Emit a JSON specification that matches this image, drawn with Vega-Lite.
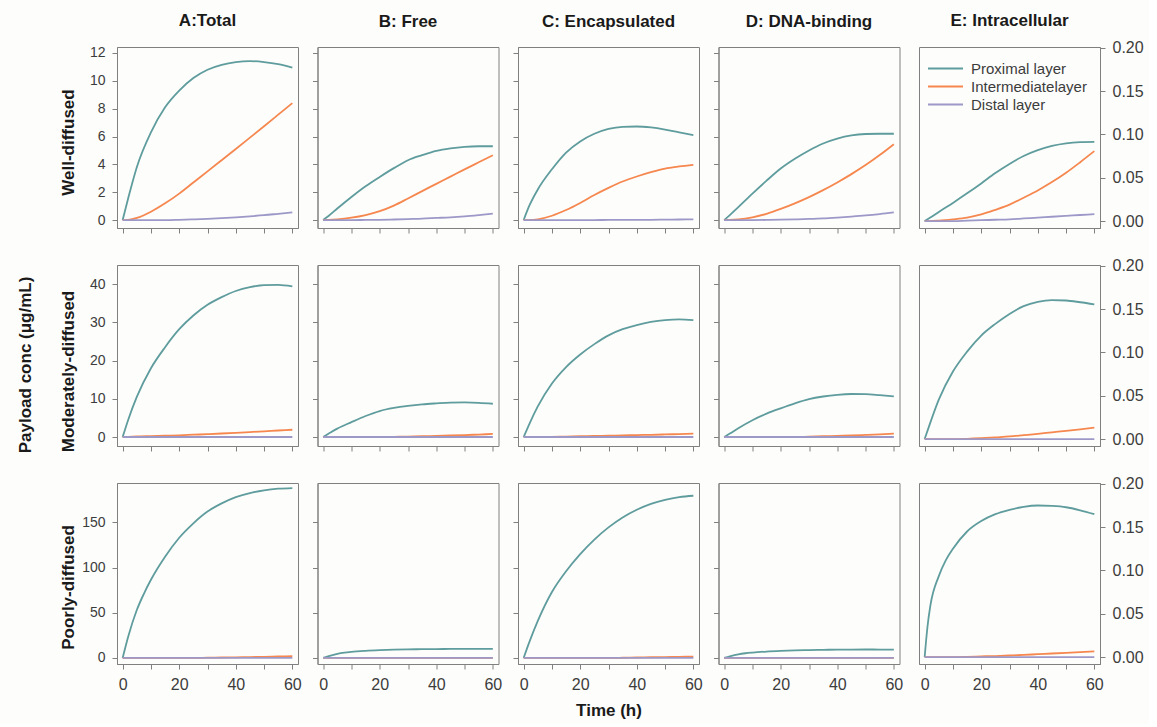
{
"$schema": "https://vega.github.io/schema/vega-lite/v6.json",
"background": "#fdfdfb",
"padding": {"left": 16, "top": 11, "right": 5, "bottom": 5},
"title": {"text": "Payload conc (μg/mL)", "orient": "left", "anchor": "middle", "offset": 24, "fontSize": 17, "fontWeight": "bold", "color": "#1a1a1a"},
"datasets": {"d": [
{"r":"W","c":"A","t":0,"p":0,"i":0,"d":0},{"r":"W","c":"A","t":2,"p":1.6,"i":0.02,"d":0},{"r":"W","c":"A","t":5,"p":3.8,"i":0.15,"d":0},{"r":"W","c":"A","t":10,"p":6.3,"i":0.6,"d":0},{"r":"W","c":"A","t":15,"p":8.1,"i":1.2,"d":0},{"r":"W","c":"A","t":20,"p":9.3,"i":1.9,"d":0.02},{"r":"W","c":"A","t":25,"p":10.2,"i":2.7,"d":0.05},{"r":"W","c":"A","t":30,"p":10.8,"i":3.5,"d":0.09},{"r":"W","c":"A","t":35,"p":11.15,"i":4.3,"d":0.14},{"r":"W","c":"A","t":40,"p":11.35,"i":5.1,"d":0.2},{"r":"W","c":"A","t":45,"p":11.42,"i":5.92,"d":0.27},{"r":"W","c":"A","t":50,"p":11.35,"i":6.74,"d":0.35},{"r":"W","c":"A","t":55,"p":11.2,"i":7.57,"d":0.45},{"r":"W","c":"A","t":60,"p":10.95,"i":8.4,"d":0.55},
{"r":"W","c":"B","t":0,"p":0,"i":0,"d":0},{"r":"W","c":"B","t":2,"p":0.31,"i":0.01,"d":0},{"r":"W","c":"B","t":5,"p":0.83,"i":0.05,"d":0},{"r":"W","c":"B","t":10,"p":1.66,"i":0.17,"d":0},{"r":"W","c":"B","t":15,"p":2.43,"i":0.36,"d":0.01},{"r":"W","c":"B","t":20,"p":3.1,"i":0.64,"d":0.02},{"r":"W","c":"B","t":25,"p":3.73,"i":1.04,"d":0.04},{"r":"W","c":"B","t":30,"p":4.3,"i":1.55,"d":0.07},{"r":"W","c":"B","t":35,"p":4.66,"i":2.08,"d":0.1},{"r":"W","c":"B","t":40,"p":4.97,"i":2.6,"d":0.15},{"r":"W","c":"B","t":45,"p":5.15,"i":3.12,"d":0.2},{"r":"W","c":"B","t":50,"p":5.26,"i":3.64,"d":0.27},{"r":"W","c":"B","t":55,"p":5.3,"i":4.15,"d":0.36},{"r":"W","c":"B","t":60,"p":5.3,"i":4.66,"d":0.46},
{"r":"W","c":"C","t":0,"p":0,"i":0,"d":0},{"r":"W","c":"C","t":2,"p":1.03,"i":0,"d":0},{"r":"W","c":"C","t":5,"p":2.2,"i":0.05,"d":0},{"r":"W","c":"C","t":10,"p":3.65,"i":0.31,"d":0},{"r":"W","c":"C","t":15,"p":4.85,"i":0.72,"d":0},{"r":"W","c":"C","t":20,"p":5.65,"i":1.23,"d":0},{"r":"W","c":"C","t":25,"p":6.2,"i":1.8,"d":0},{"r":"W","c":"C","t":30,"p":6.55,"i":2.31,"d":0.01},{"r":"W","c":"C","t":35,"p":6.7,"i":2.77,"d":0.01},{"r":"W","c":"C","t":40,"p":6.72,"i":3.13,"d":0.02},{"r":"W","c":"C","t":45,"p":6.65,"i":3.44,"d":0.02},{"r":"W","c":"C","t":50,"p":6.5,"i":3.7,"d":0.03},{"r":"W","c":"C","t":55,"p":6.3,"i":3.85,"d":0.04},{"r":"W","c":"C","t":60,"p":6.1,"i":3.97,"d":0.05},
{"r":"W","c":"D","t":0,"p":0,"i":0,"d":0},{"r":"W","c":"D","t":2,"p":0.36,"i":0.01,"d":0},{"r":"W","c":"D","t":5,"p":0.93,"i":0.05,"d":0},{"r":"W","c":"D","t":10,"p":1.9,"i":0.2,"d":0},{"r":"W","c":"D","t":15,"p":2.83,"i":0.45,"d":0.01},{"r":"W","c":"D","t":20,"p":3.7,"i":0.8,"d":0.03},{"r":"W","c":"D","t":25,"p":4.4,"i":1.2,"d":0.05},{"r":"W","c":"D","t":30,"p":5.0,"i":1.65,"d":0.08},{"r":"W","c":"D","t":35,"p":5.5,"i":2.15,"d":0.12},{"r":"W","c":"D","t":40,"p":5.85,"i":2.7,"d":0.18},{"r":"W","c":"D","t":45,"p":6.08,"i":3.3,"d":0.25},{"r":"W","c":"D","t":50,"p":6.18,"i":3.95,"d":0.33},{"r":"W","c":"D","t":55,"p":6.2,"i":4.67,"d":0.43},{"r":"W","c":"D","t":60,"p":6.2,"i":5.45,"d":0.55},
{"r":"W","c":"E","t":0,"p":0,"i":0,"d":0},{"r":"W","c":"E","t":2,"p":0.004,"i":0,"d":0},{"r":"W","c":"E","t":5,"p":0.0105,"i":0.0005,"d":0},{"r":"W","c":"E","t":10,"p":0.021,"i":0.002,"d":0},{"r":"W","c":"E","t":15,"p":0.032,"i":0.004,"d":0.0005},{"r":"W","c":"E","t":20,"p":0.0435,"i":0.0077,"d":0.001},{"r":"W","c":"E","t":25,"p":0.0555,"i":0.013,"d":0.0015},{"r":"W","c":"E","t":30,"p":0.066,"i":0.019,"d":0.002},{"r":"W","c":"E","t":35,"p":0.0752,"i":0.027,"d":0.003},{"r":"W","c":"E","t":40,"p":0.082,"i":0.0354,"d":0.004},{"r":"W","c":"E","t":45,"p":0.0868,"i":0.045,"d":0.005},{"r":"W","c":"E","t":50,"p":0.0898,"i":0.0558,"d":0.006},{"r":"W","c":"E","t":55,"p":0.0911,"i":0.068,"d":0.007},{"r":"W","c":"E","t":60,"p":0.0914,"i":0.0808,"d":0.008},
{"r":"M","c":"A","t":0,"p":0,"i":0,"d":0},{"r":"M","c":"A","t":2,"p":4.6,"i":0.05,"d":0},{"r":"M","c":"A","t":5,"p":10.5,"i":0.15,"d":0},{"r":"M","c":"A","t":10,"p":18.0,"i":0.25,"d":0},{"r":"M","c":"A","t":15,"p":23.5,"i":0.35,"d":0},{"r":"M","c":"A","t":20,"p":28.2,"i":0.45,"d":0},{"r":"M","c":"A","t":25,"p":31.8,"i":0.6,"d":0},{"r":"M","c":"A","t":30,"p":34.6,"i":0.75,"d":0},{"r":"M","c":"A","t":35,"p":36.6,"i":0.92,"d":0},{"r":"M","c":"A","t":40,"p":38.2,"i":1.1,"d":0},{"r":"M","c":"A","t":45,"p":39.2,"i":1.3,"d":0},{"r":"M","c":"A","t":50,"p":39.75,"i":1.5,"d":0},{"r":"M","c":"A","t":55,"p":39.8,"i":1.7,"d":0},{"r":"M","c":"A","t":60,"p":39.4,"i":1.9,"d":0},
{"r":"M","c":"B","t":0,"p":0,"i":0,"d":0},{"r":"M","c":"B","t":2,"p":0.9,"i":0,"d":0},{"r":"M","c":"B","t":5,"p":2.2,"i":0,"d":0},{"r":"M","c":"B","t":10,"p":3.9,"i":0,"d":0},{"r":"M","c":"B","t":15,"p":5.5,"i":0,"d":0},{"r":"M","c":"B","t":20,"p":6.8,"i":0,"d":0},{"r":"M","c":"B","t":25,"p":7.6,"i":0.05,"d":0},{"r":"M","c":"B","t":30,"p":8.15,"i":0.12,"d":0},{"r":"M","c":"B","t":35,"p":8.55,"i":0.2,"d":0},{"r":"M","c":"B","t":40,"p":8.8,"i":0.3,"d":0},{"r":"M","c":"B","t":45,"p":9.0,"i":0.4,"d":0},{"r":"M","c":"B","t":50,"p":9.05,"i":0.5,"d":0},{"r":"M","c":"B","t":55,"p":8.95,"i":0.65,"d":0},{"r":"M","c":"B","t":60,"p":8.7,"i":0.8,"d":0},
{"r":"M","c":"C","t":0,"p":0,"i":0,"d":0},{"r":"M","c":"C","t":2,"p":3.4,"i":0,"d":0},{"r":"M","c":"C","t":5,"p":8.0,"i":0,"d":0},{"r":"M","c":"C","t":10,"p":14.0,"i":0.05,"d":0},{"r":"M","c":"C","t":15,"p":18.3,"i":0.12,"d":0},{"r":"M","c":"C","t":20,"p":21.6,"i":0.2,"d":0},{"r":"M","c":"C","t":25,"p":24.3,"i":0.28,"d":0},{"r":"M","c":"C","t":30,"p":26.6,"i":0.35,"d":0},{"r":"M","c":"C","t":35,"p":28.2,"i":0.42,"d":0},{"r":"M","c":"C","t":40,"p":29.3,"i":0.5,"d":0},{"r":"M","c":"C","t":45,"p":30.1,"i":0.58,"d":0},{"r":"M","c":"C","t":50,"p":30.6,"i":0.68,"d":0},{"r":"M","c":"C","t":55,"p":30.8,"i":0.78,"d":0},{"r":"M","c":"C","t":60,"p":30.6,"i":0.88,"d":0},
{"r":"M","c":"D","t":0,"p":0,"i":0,"d":0},{"r":"M","c":"D","t":2,"p":0.9,"i":0,"d":0},{"r":"M","c":"D","t":5,"p":2.3,"i":0,"d":0},{"r":"M","c":"D","t":10,"p":4.4,"i":0,"d":0},{"r":"M","c":"D","t":15,"p":6.1,"i":0,"d":0},{"r":"M","c":"D","t":20,"p":7.5,"i":0,"d":0},{"r":"M","c":"D","t":25,"p":8.8,"i":0,"d":0},{"r":"M","c":"D","t":30,"p":9.9,"i":0.1,"d":0},{"r":"M","c":"D","t":35,"p":10.6,"i":0.2,"d":0},{"r":"M","c":"D","t":40,"p":11.05,"i":0.3,"d":0},{"r":"M","c":"D","t":45,"p":11.25,"i":0.4,"d":0},{"r":"M","c":"D","t":50,"p":11.2,"i":0.55,"d":0},{"r":"M","c":"D","t":55,"p":10.95,"i":0.7,"d":0},{"r":"M","c":"D","t":60,"p":10.65,"i":0.9,"d":0},
{"r":"M","c":"E","t":0,"p":0,"i":0,"d":0},{"r":"M","c":"E","t":2,"p":0.019,"i":0,"d":0},{"r":"M","c":"E","t":5,"p":0.0455,"i":0,"d":0},{"r":"M","c":"E","t":10,"p":0.078,"i":0,"d":0},{"r":"M","c":"E","t":15,"p":0.101,"i":0.0003,"d":0},{"r":"M","c":"E","t":20,"p":0.1195,"i":0.001,"d":0},{"r":"M","c":"E","t":25,"p":0.133,"i":0.002,"d":0},{"r":"M","c":"E","t":30,"p":0.1445,"i":0.003,"d":0},{"r":"M","c":"E","t":35,"p":0.1535,"i":0.0045,"d":0},{"r":"M","c":"E","t":40,"p":0.1585,"i":0.006,"d":0},{"r":"M","c":"E","t":45,"p":0.1605,"i":0.0078,"d":0},{"r":"M","c":"E","t":50,"p":0.16,"i":0.0095,"d":0},{"r":"M","c":"E","t":55,"p":0.158,"i":0.0113,"d":0},{"r":"M","c":"E","t":60,"p":0.1556,"i":0.0132,"d":0},
{"r":"P","c":"A","t":0,"p":0,"i":0,"d":0},{"r":"P","c":"A","t":2,"p":24,"i":0,"d":0},{"r":"P","c":"A","t":5,"p":53,"i":0,"d":0},{"r":"P","c":"A","t":7.5,"p":71,"i":0,"d":0},{"r":"P","c":"A","t":10,"p":86.5,"i":0,"d":0},{"r":"P","c":"A","t":15,"p":112,"i":0,"d":0},{"r":"P","c":"A","t":20,"p":133,"i":0,"d":0},{"r":"P","c":"A","t":25,"p":149,"i":0,"d":0},{"r":"P","c":"A","t":30,"p":162,"i":0.3,"d":0},{"r":"P","c":"A","t":35,"p":171,"i":0.5,"d":0},{"r":"P","c":"A","t":40,"p":178,"i":0.7,"d":0},{"r":"P","c":"A","t":45,"p":182.5,"i":0.95,"d":0},{"r":"P","c":"A","t":50,"p":185.5,"i":1.2,"d":0},{"r":"P","c":"A","t":55,"p":187.3,"i":1.6,"d":0},{"r":"P","c":"A","t":60,"p":188,"i":2.0,"d":0},
{"r":"P","c":"B","t":0,"p":0,"i":0,"d":0},{"r":"P","c":"B","t":2,"p":2,"i":0,"d":0},{"r":"P","c":"B","t":5,"p":4.5,"i":0,"d":0},{"r":"P","c":"B","t":7.5,"p":5.9,"i":0,"d":0},{"r":"P","c":"B","t":10,"p":6.8,"i":0,"d":0},{"r":"P","c":"B","t":15,"p":7.9,"i":0,"d":0},{"r":"P","c":"B","t":20,"p":8.6,"i":0,"d":0},{"r":"P","c":"B","t":25,"p":9.1,"i":0,"d":0},{"r":"P","c":"B","t":30,"p":9.5,"i":0,"d":0},{"r":"P","c":"B","t":35,"p":9.7,"i":0,"d":0},{"r":"P","c":"B","t":40,"p":9.85,"i":0,"d":0},{"r":"P","c":"B","t":45,"p":9.95,"i":0,"d":0},{"r":"P","c":"B","t":50,"p":10,"i":0,"d":0},{"r":"P","c":"B","t":55,"p":10.05,"i":0,"d":0},{"r":"P","c":"B","t":60,"p":10.05,"i":0,"d":0},
{"r":"P","c":"C","t":0,"p":0,"i":0,"d":0},{"r":"P","c":"C","t":2,"p":17.5,"i":0,"d":0},{"r":"P","c":"C","t":5,"p":41,"i":0,"d":0},{"r":"P","c":"C","t":10,"p":73,"i":0,"d":0},{"r":"P","c":"C","t":15,"p":96,"i":0,"d":0},{"r":"P","c":"C","t":20,"p":115,"i":0,"d":0},{"r":"P","c":"C","t":25,"p":131,"i":0,"d":0},{"r":"P","c":"C","t":30,"p":144.5,"i":0,"d":0},{"r":"P","c":"C","t":35,"p":155.5,"i":0.2,"d":0},{"r":"P","c":"C","t":40,"p":164,"i":0.5,"d":0},{"r":"P","c":"C","t":45,"p":170.5,"i":0.75,"d":0},{"r":"P","c":"C","t":50,"p":175,"i":1.0,"d":0},{"r":"P","c":"C","t":55,"p":178,"i":1.25,"d":0},{"r":"P","c":"C","t":60,"p":179.5,"i":1.5,"d":0},
{"r":"P","c":"D","t":0,"p":0,"i":0,"d":0},{"r":"P","c":"D","t":2,"p":1.8,"i":0,"d":0},{"r":"P","c":"D","t":5,"p":4,"i":0,"d":0},{"r":"P","c":"D","t":7.5,"p":5.2,"i":0,"d":0},{"r":"P","c":"D","t":10,"p":6,"i":0,"d":0},{"r":"P","c":"D","t":15,"p":7.1,"i":0,"d":0},{"r":"P","c":"D","t":20,"p":7.8,"i":0,"d":0},{"r":"P","c":"D","t":25,"p":8.3,"i":0,"d":0},{"r":"P","c":"D","t":30,"p":8.7,"i":0,"d":0},{"r":"P","c":"D","t":35,"p":9.0,"i":0,"d":0},{"r":"P","c":"D","t":40,"p":9.2,"i":0,"d":0},{"r":"P","c":"D","t":45,"p":9.3,"i":0,"d":0},{"r":"P","c":"D","t":50,"p":9.35,"i":0,"d":0},{"r":"P","c":"D","t":55,"p":9.3,"i":0,"d":0},{"r":"P","c":"D","t":60,"p":9.2,"i":0,"d":0},
{"r":"P","c":"E","t":0,"p":0,"i":0,"d":0},{"r":"P","c":"E","t":1,"p":0.035,"i":0,"d":0},{"r":"P","c":"E","t":2,"p":0.059,"i":0,"d":0},{"r":"P","c":"E","t":5,"p":0.0935,"i":0,"d":0},{"r":"P","c":"E","t":7.5,"p":0.112,"i":0,"d":0},{"r":"P","c":"E","t":10,"p":0.125,"i":0,"d":0},{"r":"P","c":"E","t":15,"p":0.145,"i":0.0003,"d":0},{"r":"P","c":"E","t":20,"p":0.157,"i":0.0008,"d":0},{"r":"P","c":"E","t":25,"p":0.165,"i":0.0012,"d":0},{"r":"P","c":"E","t":30,"p":0.17,"i":0.0018,"d":0},{"r":"P","c":"E","t":35,"p":0.1735,"i":0.0025,"d":0},{"r":"P","c":"E","t":40,"p":0.175,"i":0.0033,"d":0},{"r":"P","c":"E","t":45,"p":0.1745,"i":0.0041,"d":0},{"r":"P","c":"E","t":50,"p":0.173,"i":0.0049,"d":0},{"r":"P","c":"E","t":55,"p":0.1695,"i":0.0057,"d":0},{"r":"P","c":"E","t":60,"p":0.165,"i":0.0066,"d":0}
]},
"data": {"name": "d"},
"transform": [{"fold": ["p", "i", "d"], "as": ["k", "v"]}],
"columns": 5,
"spacing": {"column": 19.5, "row": 37},
"bounds": "flush",
"resolve": {"scale": {"x": "independent", "y": "independent", "color": "independent"}},
"concat": [
{"width": 181, "height": 181, "title": {"text": "A:Total", "anchor": "middle", "offset": 16},
 "transform": [{"filter": "datum.r==='W'&&datum.c==='A'"}],
 "mark": {"type": "line", "interpolate": "monotone", "strokeWidth": 1.8},
 "encoding": {
  "x": {"field": "t", "type": "quantitative", "scale": {"domain": [-2, 62], "nice": false, "zero": false}, "axis": {"values": [0,10,20,30,40,50,60], "labels": false, "title": null}},
  "y": {"field": "v", "type": "quantitative", "scale": {"domain": [-0.57, 12.43], "nice": false, "zero": false}, "axis": {"values": [0,2,4,6,8,10,12], "title": "Well-diffused", "titleX": -40, "titleY": 95}},
  "color": {"field": "k", "type": "nominal", "scale": {"domain": ["p","i","d"], "range": ["#5f9c9d","#f5874f","#9c98c8"]}, "legend": null}}},
{"width": 181, "height": 181, "title": {"text": "B: Free", "anchor": "middle", "offset": 16},
 "transform": [{"filter": "datum.r==='W'&&datum.c==='B'"}],
 "mark": {"type": "line", "interpolate": "monotone", "strokeWidth": 1.8},
 "encoding": {
  "x": {"field": "t", "type": "quantitative", "scale": {"domain": [-2, 62], "nice": false, "zero": false}, "axis": {"values": [0,10,20,30,40,50,60], "labels": false, "title": null}},
  "y": {"field": "v", "type": "quantitative", "scale": {"domain": [-0.57, 12.43], "nice": false, "zero": false}, "axis": {"values": [0,2,4,6,8,10,12], "labels": false, "title": null}},
  "color": {"field": "k", "type": "nominal", "scale": {"domain": ["p","i","d"], "range": ["#5f9c9d","#f5874f","#9c98c8"]}, "legend": null}}},
{"width": 181, "height": 181, "title": {"text": "C: Encapsulated", "anchor": "middle", "offset": 16},
 "transform": [{"filter": "datum.r==='W'&&datum.c==='C'"}],
 "mark": {"type": "line", "interpolate": "monotone", "strokeWidth": 1.8},
 "encoding": {
  "x": {"field": "t", "type": "quantitative", "scale": {"domain": [-2, 62], "nice": false, "zero": false}, "axis": {"values": [0,10,20,30,40,50,60], "labels": false, "title": null}},
  "y": {"field": "v", "type": "quantitative", "scale": {"domain": [-0.57, 12.43], "nice": false, "zero": false}, "axis": {"values": [0,2,4,6,8,10,12], "labels": false, "title": null}},
  "color": {"field": "k", "type": "nominal", "scale": {"domain": ["p","i","d"], "range": ["#5f9c9d","#f5874f","#9c98c8"]}, "legend": null}}},
{"width": 181, "height": 181, "title": {"text": "D: DNA-binding", "anchor": "middle", "offset": 16},
 "transform": [{"filter": "datum.r==='W'&&datum.c==='D'"}],
 "mark": {"type": "line", "interpolate": "monotone", "strokeWidth": 1.8},
 "encoding": {
  "x": {"field": "t", "type": "quantitative", "scale": {"domain": [-2, 62], "nice": false, "zero": false}, "axis": {"values": [0,10,20,30,40,50,60], "labels": false, "title": null}},
  "y": {"field": "v", "type": "quantitative", "scale": {"domain": [-0.57, 12.43], "nice": false, "zero": false}, "axis": {"values": [0,2,4,6,8,10,12], "labels": false, "title": null}},
  "color": {"field": "k", "type": "nominal", "scale": {"domain": ["p","i","d"], "range": ["#5f9c9d","#f5874f","#9c98c8"]}, "legend": null}}},
{"width": 181, "height": 181, "title": {"text": "E: Intracellular", "anchor": "middle", "offset": 10},
 "transform": [{"filter": "datum.r==='W'&&datum.c==='E'"}],
 "mark": {"type": "line", "interpolate": "monotone", "strokeWidth": 1.8},
 "encoding": {
  "x": {"field": "t", "type": "quantitative", "scale": {"domain": [-2, 62], "nice": false, "zero": false}, "axis": {"values": [0,10,20,30,40,50,60], "labels": false, "title": null}},
  "y": {"field": "v", "type": "quantitative", "scale": {"domain": [-0.008, 0.201], "nice": false, "zero": false}, "axis": {"orient": "right", "values": [0,0.05,0.1,0.15,0.2], "format": ".2f", "labelFontSize": 16, "title": null}},
  "color": {"field": "k", "type": "nominal", "scale": {"domain": ["p","i","d"], "range": ["#5f9c9d","#f5874f","#9c98c8"]},
   "legend": {"orient": "none", "legendX": 19, "legendY": 14, "title": null, "symbolType": "M-5,0H5", "symbolSize": 49, "symbolStrokeWidth": 1.8, "labelFontSize": 15, "labelColor": "#3c3c3c", "labelOffset": 18, "rowPadding": 2, "padding": 0,
   "labelExpr": "datum.label==='p'?'Proximal layer':datum.label==='i'?'Intermediatelayer':'Distal layer'"}}}},
{"width": 181, "height": 181,
 "transform": [{"filter": "datum.r==='M'&&datum.c==='A'"}],
 "mark": {"type": "line", "interpolate": "monotone", "strokeWidth": 1.8},
 "encoding": {
  "x": {"field": "t", "type": "quantitative", "scale": {"domain": [-2, 62], "nice": false, "zero": false}, "axis": {"values": [0,10,20,30,40,50,60], "labels": false, "title": null}},
  "y": {"field": "v", "type": "quantitative", "scale": {"domain": [-2.35, 45], "nice": false, "zero": false}, "axis": {"values": [0,10,20,30,40], "title": "Moderately-diffused", "titleX": -40, "titleY": 106}},
  "color": {"field": "k", "type": "nominal", "scale": {"domain": ["p","i","d"], "range": ["#5f9c9d","#f5874f","#9c98c8"]}, "legend": null}}},
{"width": 181, "height": 181,
 "transform": [{"filter": "datum.r==='M'&&datum.c==='B'"}],
 "mark": {"type": "line", "interpolate": "monotone", "strokeWidth": 1.8},
 "encoding": {
  "x": {"field": "t", "type": "quantitative", "scale": {"domain": [-2, 62], "nice": false, "zero": false}, "axis": {"values": [0,10,20,30,40,50,60], "labels": false, "title": null}},
  "y": {"field": "v", "type": "quantitative", "scale": {"domain": [-2.35, 45], "nice": false, "zero": false}, "axis": {"values": [0,10,20,30,40], "labels": false, "title": null}},
  "color": {"field": "k", "type": "nominal", "scale": {"domain": ["p","i","d"], "range": ["#5f9c9d","#f5874f","#9c98c8"]}, "legend": null}}},
{"width": 181, "height": 181,
 "transform": [{"filter": "datum.r==='M'&&datum.c==='C'"}],
 "mark": {"type": "line", "interpolate": "monotone", "strokeWidth": 1.8},
 "encoding": {
  "x": {"field": "t", "type": "quantitative", "scale": {"domain": [-2, 62], "nice": false, "zero": false}, "axis": {"values": [0,10,20,30,40,50,60], "labels": false, "title": null}},
  "y": {"field": "v", "type": "quantitative", "scale": {"domain": [-2.35, 45], "nice": false, "zero": false}, "axis": {"values": [0,10,20,30,40], "labels": false, "title": null}},
  "color": {"field": "k", "type": "nominal", "scale": {"domain": ["p","i","d"], "range": ["#5f9c9d","#f5874f","#9c98c8"]}, "legend": null}}},
{"width": 181, "height": 181,
 "transform": [{"filter": "datum.r==='M'&&datum.c==='D'"}],
 "mark": {"type": "line", "interpolate": "monotone", "strokeWidth": 1.8},
 "encoding": {
  "x": {"field": "t", "type": "quantitative", "scale": {"domain": [-2, 62], "nice": false, "zero": false}, "axis": {"values": [0,10,20,30,40,50,60], "labels": false, "title": null}},
  "y": {"field": "v", "type": "quantitative", "scale": {"domain": [-2.35, 45], "nice": false, "zero": false}, "axis": {"values": [0,10,20,30,40], "labels": false, "title": null}},
  "color": {"field": "k", "type": "nominal", "scale": {"domain": ["p","i","d"], "range": ["#5f9c9d","#f5874f","#9c98c8"]}, "legend": null}}},
{"width": 181, "height": 181,
 "transform": [{"filter": "datum.r==='M'&&datum.c==='E'"}],
 "mark": {"type": "line", "interpolate": "monotone", "strokeWidth": 1.8},
 "encoding": {
  "x": {"field": "t", "type": "quantitative", "scale": {"domain": [-2, 62], "nice": false, "zero": false}, "axis": {"values": [0,10,20,30,40,50,60], "labels": false, "title": null}},
  "y": {"field": "v", "type": "quantitative", "scale": {"domain": [-0.008, 0.201], "nice": false, "zero": false}, "axis": {"orient": "right", "values": [0,0.05,0.1,0.15,0.2], "format": ".2f", "labelFontSize": 16, "title": null}},
  "color": {"field": "k", "type": "nominal", "scale": {"domain": ["p","i","d"], "range": ["#5f9c9d","#f5874f","#9c98c8"]}, "legend": null}}},
{"width": 181, "height": 181,
 "transform": [{"filter": "datum.r==='P'&&datum.c==='A'"}],
 "mark": {"type": "line", "interpolate": "monotone", "strokeWidth": 1.8},
 "encoding": {
  "x": {"field": "t", "type": "quantitative", "scale": {"domain": [-2, 62], "nice": false, "zero": false}, "axis": {"values": [0,10,20,30,40,50,60], "labelExpr": "datum.value % 20 === 0 ? datum.label : ''", "labelFontSize": 16, "labelFlush": false, "title": null}},
  "y": {"field": "v", "type": "quantitative", "scale": {"domain": [-6.7, 193.6], "nice": false, "zero": false}, "axis": {"values": [0,50,100,150], "title": "Poorly-diffused", "titleX": -40, "titleY": 104}},
  "color": {"field": "k", "type": "nominal", "scale": {"domain": ["p","i","d"], "range": ["#5f9c9d","#f5874f","#9c98c8"]}, "legend": null}}},
{"width": 181, "height": 181,
 "transform": [{"filter": "datum.r==='P'&&datum.c==='B'"}],
 "mark": {"type": "line", "interpolate": "monotone", "strokeWidth": 1.8},
 "encoding": {
  "x": {"field": "t", "type": "quantitative", "scale": {"domain": [-2, 62], "nice": false, "zero": false}, "axis": {"values": [0,10,20,30,40,50,60], "labelExpr": "datum.value % 20 === 0 ? datum.label : ''", "labelFontSize": 16, "labelFlush": false, "title": null}},
  "y": {"field": "v", "type": "quantitative", "scale": {"domain": [-6.7, 193.6], "nice": false, "zero": false}, "axis": {"values": [0,50,100,150], "labels": false, "title": null}},
  "color": {"field": "k", "type": "nominal", "scale": {"domain": ["p","i","d"], "range": ["#5f9c9d","#f5874f","#9c98c8"]}, "legend": null}}},
{"width": 181, "height": 181,
 "transform": [{"filter": "datum.r==='P'&&datum.c==='C'"}],
 "mark": {"type": "line", "interpolate": "monotone", "strokeWidth": 1.8},
 "encoding": {
  "x": {"field": "t", "type": "quantitative", "scale": {"domain": [-2, 62], "nice": false, "zero": false}, "axis": {"values": [0,10,20,30,40,50,60], "labelExpr": "datum.value % 20 === 0 ? datum.label : ''", "labelFontSize": 16, "labelFlush": false, "title": "Time (h)", "titlePadding": 10}},
  "y": {"field": "v", "type": "quantitative", "scale": {"domain": [-6.7, 193.6], "nice": false, "zero": false}, "axis": {"values": [0,50,100,150], "labels": false, "title": null}},
  "color": {"field": "k", "type": "nominal", "scale": {"domain": ["p","i","d"], "range": ["#5f9c9d","#f5874f","#9c98c8"]}, "legend": null}}},
{"width": 181, "height": 181,
 "transform": [{"filter": "datum.r==='P'&&datum.c==='D'"}],
 "mark": {"type": "line", "interpolate": "monotone", "strokeWidth": 1.8},
 "encoding": {
  "x": {"field": "t", "type": "quantitative", "scale": {"domain": [-2, 62], "nice": false, "zero": false}, "axis": {"values": [0,10,20,30,40,50,60], "labelExpr": "datum.value % 20 === 0 ? datum.label : ''", "labelFontSize": 16, "labelFlush": false, "title": null}},
  "y": {"field": "v", "type": "quantitative", "scale": {"domain": [-6.7, 193.6], "nice": false, "zero": false}, "axis": {"values": [0,50,100,150], "labels": false, "title": null}},
  "color": {"field": "k", "type": "nominal", "scale": {"domain": ["p","i","d"], "range": ["#5f9c9d","#f5874f","#9c98c8"]}, "legend": null}}},
{"width": 181, "height": 181,
 "transform": [{"filter": "datum.r==='P'&&datum.c==='E'"}],
 "mark": {"type": "line", "interpolate": "monotone", "strokeWidth": 1.8},
 "encoding": {
  "x": {"field": "t", "type": "quantitative", "scale": {"domain": [-2, 62], "nice": false, "zero": false}, "axis": {"values": [0,10,20,30,40,50,60], "labelExpr": "datum.value % 20 === 0 ? datum.label : ''", "labelFontSize": 16, "labelFlush": false, "title": null}},
  "y": {"field": "v", "type": "quantitative", "scale": {"domain": [-0.008, 0.201], "nice": false, "zero": false}, "axis": {"orient": "right", "values": [0,0.05,0.1,0.15,0.2], "format": ".2f", "labelFontSize": 16, "title": null}},
  "color": {"field": "k", "type": "nominal", "scale": {"domain": ["p","i","d"], "range": ["#5f9c9d","#f5874f","#9c98c8"]}, "legend": null}}}
],
"config": {
  "font": "Liberation Sans",
  "view": {"stroke": "#808080", "strokeWidth": 1},
  "axis": {"domainColor": "#808080", "tickColor": "#808080", "tickSize": 5, "labelColor": "#3c3c3c", "labelFontSize": 14, "labelPadding": 7, "titleFontSize": 17, "titleFontWeight": "bold", "titleColor": "#1a1a1a", "grid": false},
  "title": {"fontSize": 17, "fontWeight": "bold", "color": "#1a1a1a"}
}
}
